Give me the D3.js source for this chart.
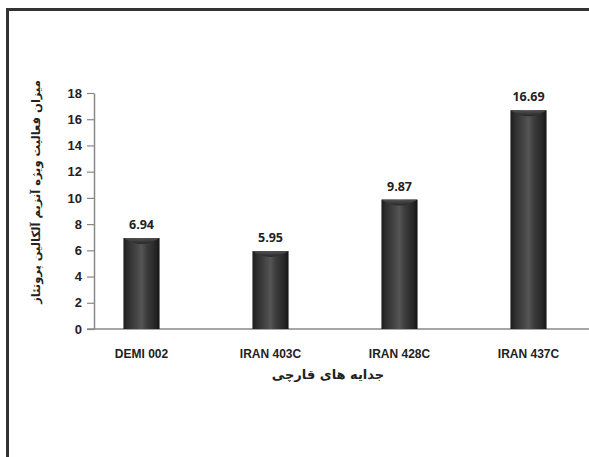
<!DOCTYPE html>
<html>
    <head>
        <title>Alkaline protease activity</title>
        <meta charset="UTF-8">
        <script src="https://cdnjs.cloudflare.com/ajax/libs/d3/7.9.0/d3.min.js"></script>
        <style>
            html, body {
                margin: 0;
                padding: 0;
                background: #fff;
                font-family: 'Open Sans', 'DejaVu Sans', sans-serif;
            }
        </style>
    </head>
    <body>
        <div class="chart"></div>
        <script>
            var isolates = ['DEMI 002', 'IRAN 403C', 'IRAN 428C', 'IRAN 437C'];
            var activity = [6.94, 5.95, 9.87, 16.69];
            var yTicks = [0, 2, 4, 6, 8, 10, 12, 14, 16, 18];

            let w = 589;
            let h = 457;

            let svg = d3.select('.chart').append('svg')
                    .attr('width', w)
                    .attr('height', h);

            let defs = svg.append('defs');
            let grad = defs.append('linearGradient')
                    .attr('id', 'cyl')
                    .attr('x1', 0).attr('y1', 0)
                    .attr('x2', 1).attr('y2', 0);
            let stops = {
                '0%': '#1c1c1c',
                '12%': '#2e2e2e',
                '35%': '#444',
                '50%': '#555',
                '65%': '#3c3c3c',
                '88%': '#262626',
                '100%': '#151515'
            };
            Object.keys(stops).forEach(function(k){
                grad.append('stop').attr('offset', k).style('stop-color', stops[k]);
            });
            let capGrad = defs.append('linearGradient')
                    .attr('id', 'cap')
                    .attr('x1', 0).attr('y1', 0)
                    .attr('x2', 0).attr('y2', 1);
            capGrad.append('stop').attr('offset', '0%').style('stop-color', '#555');
            capGrad.append('stop').attr('offset', '100%').style('stop-color', '#222');

            // frame (top and left only)
            svg.append('rect').attr('x', 6).attr('y', 8).attr('width', w - 6).attr('height', 3).attr('fill', '#333');
            svg.append('rect').attr('x', 6).attr('y', 8).attr('width', 3).attr('height', h - 8).attr('fill', '#333');

            let x = d3.scaleBand()
                    .domain(isolates)
                    .range([77, 593])
                    .paddingInner(0.72)
                    .paddingOuter(0.36);

            let y = d3.scaleLinear()
                    .domain([0, 18])
                    .range([329, 93]);

            // y axis
            let yAxis = svg.append('g')
                    .attr('transform', 'translate(94,0)')
                    .call(d3.axisLeft(y).tickValues(yTicks).tickSize(7).tickPadding(5).tickSizeOuter(0));
            yAxis.select('.domain').attr('stroke', '#888').attr('stroke-width', 1.5);
            yAxis.selectAll('.tick line').attr('stroke', '#888').attr('stroke-width', 1.2);
            yAxis.selectAll('.tick text')
                    .attr('fill', '#222')
                    .style('font-size', '13px')
                    .style('font-weight', 700);

            // x axis
            let xAxis = svg.append('g')
                    .attr('transform', 'translate(0,' + y(0) + ')')
                    .call(d3.axisBottom(x).tickSize(0).tickPadding(20));
            xAxis.select('.domain').remove();
            svg.append('line')
                    .attr('x1', 87).attr('x2', w)
                    .attr('y1', y(0)).attr('y2', y(0))
                    .attr('stroke', '#888').attr('stroke-width', 1.5);
            xAxis.selectAll('.tick text')
                    .attr('fill', '#222')
                    .style('font-size', '12px')
                    .style('font-weight', 700);

            // bars
            let bars = svg.append('g').selectAll('g')
                    .data(activity)
                    .enter().append('g');

            bars.append('rect')
                    .attr('x', (d, i) => x(isolates[i]))
                    .attr('y', d => y(d))
                    .attr('width', x.bandwidth())
                    .attr('height', d => y(0) - y(d))
                    .attr('fill', 'url(#cyl)');

            bars.append('path')
                    .attr('d', function(d, i){
                        let x0 = x(isolates[i]);
                        let bw = x.bandwidth();
                        let top = y(d);
                        return 'M' + x0 + ',' + top + ' L' + (x0 + bw) + ',' + top +
                               ' Q' + (x0 + bw / 2) + ',' + (top + 12) + ' ' + x0 + ',' + top + 'Z';
                    })
                    .attr('fill', 'url(#cap)')
                    .attr('opacity', 0.9);

            bars.append('text')
                    .attr('x', (d, i) => x(isolates[i]) + x.bandwidth() / 2)
                    .attr('y', d => y(d) - 9)
                    .attr('text-anchor', 'middle')
                    .attr('fill', '#222')
                    .style('font-size', '12.5px')
                    .style('font-weight', 700)
                    .text(d => d.toFixed(2));

            // axis titles
            svg.append('text')
                    .attr('x', 328)
                    .attr('y', 379)
                    .attr('text-anchor', 'middle')
                    .attr('direction', 'rtl')
                    .attr('fill', '#222')
                    .style('font-size', '13px')
                    .style('font-weight', 700)
                    .style('font-family', "'DejaVu Sans', 'Noto Sans', sans-serif")
                    .text('جدایه های قارچی');

            svg.append('text')
                    .attr('transform', 'translate(40,192) rotate(-90)')
                    .attr('text-anchor', 'middle')
                    .attr('direction', 'rtl')
                    .attr('fill', '#222')
                    .style('font-size', '11.5px')
                    .style('font-weight', 700)
                    .style('font-family', "'DejaVu Sans', 'Noto Sans', sans-serif")
                    .text('میزان فعالیت ویژه آنزیم آلکالین پروتئاز');
        </script>
    </body>
</html>
